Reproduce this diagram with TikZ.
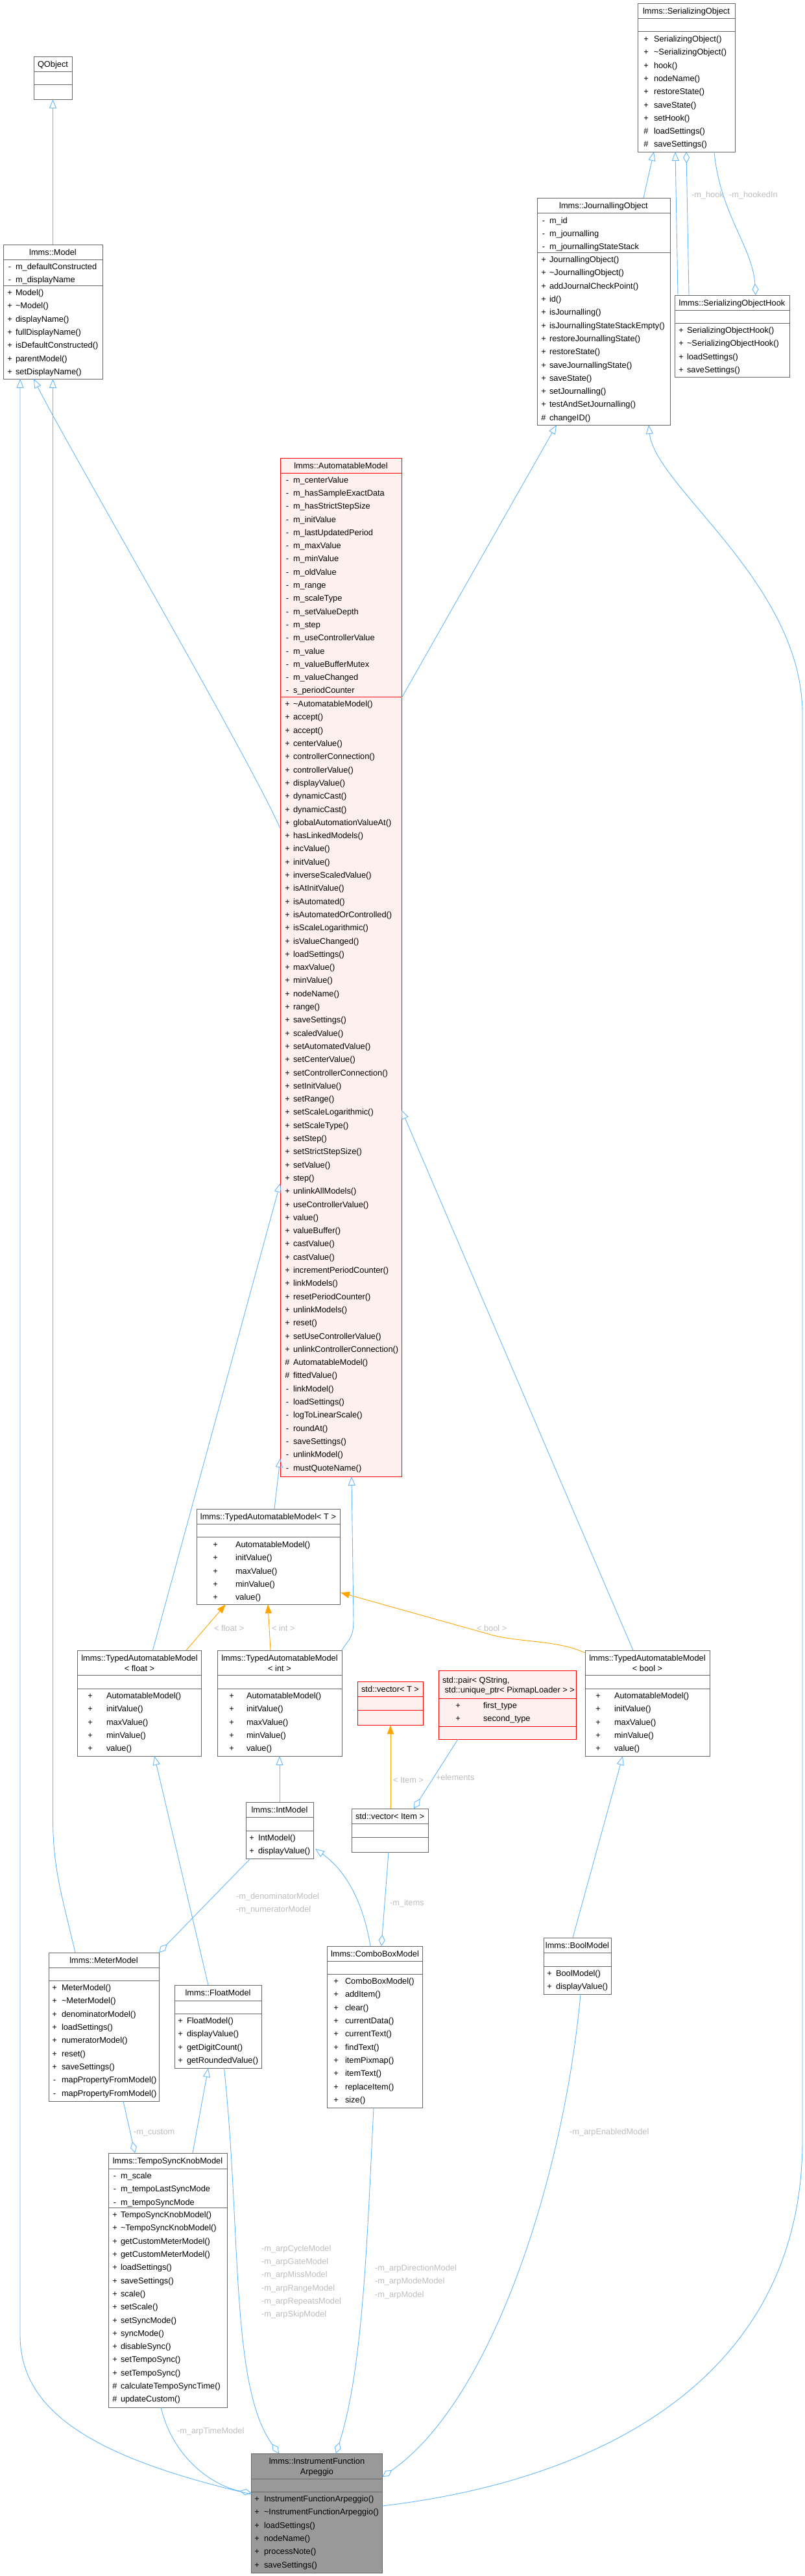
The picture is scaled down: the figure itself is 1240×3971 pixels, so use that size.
\documentclass[tikz,border=0pt]{standalone}
\usepackage{fontspec}
\setmainfont{Liberation Sans}
\usetikzlibrary{arrows.meta,calc}
\definecolor{eblue}{HTML}{63B8FF}
\definecolor{eorange}{HTML}{FFA500}
\definecolor{bgray}{HTML}{666666}
\definecolor{lblgray}{HTML}{BEBEBE}
\definecolor{pinkfill}{HTML}{FFF0F0}
\definecolor{argray}{HTML}{999999}
\newcommand\clsnode[6]{\node[#6, anchor=north west, minimum width=#4pt, minimum height=#5pt] (#1) at (#2,#3) {};}
\newcommand\sepline[4]{\draw[draw=#4, line width=0.9pt] (#1,#3) -- ({#1+#2},#3);}
\newcommand\memrows[4]{\foreach \mypre/\mytext [count=\myi from 0] in {#4}{\node[rowtxt, anchor=base] at (#1,{#3+20.3*\myi+4.6}) {\mypre};\node[rowtxt, anchor=base west] at (#2,{#3+20.3*\myi+4.6}) {\mytext};}}
\newcommand\ttl[3]{\node[rowtxt, anchor=base] at (#1,{#2+4.6}) {#3};}
\newcommand\elab[3]{\node[lab] at (#1,{#2+4.6}) {#3};}
\begin{document}
\begin{tikzpicture}[x=1pt,y=-1pt,font=\fontsize{12.8}{15}\selectfont,
  box/.style={draw=bgray, line width=0.9pt, fill=white, rectangle, inner sep=0pt, outer sep=0pt},
  redbox/.style={box, draw=red, fill=pinkfill},
  arbox/.style={box, fill=argray},
  rowtxt/.style={inner sep=0pt, outer sep=0pt},
  lab/.style={inner sep=0pt, outer sep=0pt, text=lblgray, anchor=base west},
  inh/.style={draw=eblue, line width=0.9pt, -{Triangle[open, length=14pt, width=11pt]}},
  tmpl/.style={draw=eorange, line width=0.9pt, -{Triangle[length=14pt, width=10pt]}},
  agg/.style={draw=eblue, line width=0.9pt, -{Diamond[open, length=18pt, width=10pt]}}]
\fill[white] (0,0) rectangle (1240,3971);
\useasboundingbox (0,0) rectangle (1240,3971);

% ---------- QObject
\clsnode{qobj}{52}{87}{59}{66}{box}
\sepline{52}{59}{110}{bgray}\sepline{52}{59}{130}{bgray}
\ttl{81.5}{98.5}{QObject}

% ---------- Model
\clsnode{model}{5}{377}{153}{207}{box}
\sepline{5}{153}{400}{bgray}\sepline{5}{153}{440}{bgray}
\ttl{81.5}{388.5}{lmms::Model}
\memrows{15}{24}{411}{-/m\_defaultConstructed,-/m\_displayName}
\memrows{15}{24}{451}{+/Model(),+/\textasciitilde Model(),+/displayName(),+/fullDisplayName(),+/isDefaultConstructed(),+/parentModel(),+/setDisplayName()}

% ---------- SerializingObject
\clsnode{so}{983}{5}{150}{229}{box}
\sepline{983}{150}{28}{bgray}\sepline{983}{150}{48}{bgray}
\ttl{1058}{16.5}{lmms::SerializingObject}
\memrows{996}{1008}{60}{+/SerializingObject(),+/\textasciitilde SerializingObject(),+/hook(),+/nodeName(),+/restoreState(),+/saveState(),+/setHook(),\#/loadSettings(),\#/saveSettings()}

% ---------- JournallingObject
\clsnode{jo}{828}{305}{205}{350}{box}
\sepline{828}{205}{328}{bgray}\sepline{828}{205}{389}{bgray}
\ttl{930.5}{316.5}{lmms::JournallingObject}
\memrows{838}{847}{339.5}{-/m\_id,-/m\_journalling,-/m\_journallingStateStack}
\memrows{838}{847}{400}{+/JournallingObject(),+/\textasciitilde JournallingObject(),+/addJournalCheckPoint(),+/id(),+/isJournalling(),+/isJournallingStateStackEmpty(),+/restoreJournallingState(),+/restoreState(),+/saveJournallingState(),+/saveState(),+/setJournalling(),+/testAndSetJournalling(),\#/changeID()}

% ---------- SerializingObjectHook
\clsnode{hook}{1040}{455}{177}{126}{box}
\sepline{1040}{177}{478}{bgray}\sepline{1040}{177}{498}{bgray}
\ttl{1128.5}{466.5}{lmms::SerializingObjectHook}
\memrows{1050}{1059}{509}{+/SerializingObjectHook(),+/\textasciitilde SerializingObjectHook(),+/loadSettings(),+/saveSettings()}

% ---------- AutomatableModel
\clsnode{am}{432}{706}{187}{1570}{redbox}
\sepline{432}{187}{729}{red}\sepline{432}{187}{1074}{red}
\ttl{525.5}{717.5}{lmms::AutomatableModel}
\memrows{443}{452}{739.5}{-/m\_centerValue,-/m\_hasSampleExactData,-/m\_hasStrictStepSize,-/m\_initValue,-/m\_lastUpdatedPeriod,-/m\_maxValue,-/m\_minValue,-/m\_oldValue,-/m\_range,-/m\_scaleType,-/m\_setValueDepth,-/m\_step,-/m\_useControllerValue,-/m\_value,-/m\_valueBufferMutex,-/m\_valueChanged,-/s\_periodCounter}
\memrows{443}{452}{1085}{+/\textasciitilde AutomatableModel(),+/accept(),+/accept(),+/centerValue(),+/controllerConnection(),+/controllerValue(),+/displayValue(),+/dynamicCast(),+/dynamicCast(),+/globalAutomationValueAt(),+/hasLinkedModels(),+/incValue(),+/initValue(),+/inverseScaledValue(),+/isAtInitValue(),+/isAutomated(),+/isAutomatedOrControlled(),+/isScaleLogarithmic(),+/isValueChanged(),+/loadSettings(),+/maxValue(),+/minValue(),+/nodeName(),+/range(),+/saveSettings(),+/scaledValue(),+/setAutomatedValue(),+/setCenterValue(),+/setControllerConnection(),+/setInitValue(),+/setRange(),+/setScaleLogarithmic(),+/setScaleType(),+/setStep(),+/setStrictStepSize(),+/setValue(),+/step(),+/unlinkAllModels(),+/useControllerValue(),+/value(),+/valueBuffer(),+/castValue(),+/castValue(),+/incrementPeriodCounter(),+/linkModels(),+/resetPeriodCounter(),+/unlinkModels(),+/reset(),+/setUseControllerValue(),+/unlinkControllerConnection(),\#/AutomatableModel(),\#/fittedValue(),-/linkModel(),-/loadSettings(),-/logToLinearScale(),-/roundAt(),-/saveSettings(),-/unlinkModel(),-/mustQuoteName()}

% ---------- TypedAutomatableModel<T>
\clsnode{tT}{303}{2326}{221}{147}{box}
\sepline{303}{221}{2349}{bgray}\sepline{303}{221}{2369}{bgray}
\ttl{413.5}{2337.5}{lmms::TypedAutomatableModel< T >}
\memrows{332}{363}{2381}{+/AutomatableModel(),+/initValue(),+/maxValue(),+/minValue(),+/value()}

% ---------- TypedAutomatableModel<float>
\clsnode{tf}{119.5}{2544}{191}{163}{box}
\sepline{119.5}{191}{2582}{bgray}\sepline{119.5}{191}{2603}{bgray}
\ttl{215}{2556}{lmms::TypedAutomatableModel}
\ttl{215}{2572}{< float >}
\memrows{139}{164}{2614}{+/AutomatableModel(),+/initValue(),+/maxValue(),+/minValue(),+/value()}

% ---------- TypedAutomatableModel<int>
\clsnode{ti}{335}{2544}{192}{163}{box}
\sepline{335}{192}{2582}{bgray}\sepline{335}{192}{2603}{bgray}
\ttl{431}{2556}{lmms::TypedAutomatableModel}
\ttl{431}{2572}{< int >}
\memrows{357}{380}{2614}{+/AutomatableModel(),+/initValue(),+/maxValue(),+/minValue(),+/value()}

% ---------- TypedAutomatableModel<bool>
\clsnode{tb}{902}{2544}{192}{163}{box}
\sepline{902}{192}{2582}{bgray}\sepline{902}{192}{2603}{bgray}
\ttl{998}{2556}{lmms::TypedAutomatableModel}
\ttl{998}{2572}{< bool >}
\memrows{922}{947}{2614}{+/AutomatableModel(),+/initValue(),+/maxValue(),+/minValue(),+/value()}

% ---------- std::vector<T>
\clsnode{vT}{551}{2592}{101}{67}{redbox}
\sepline{551}{101}{2615}{red}\sepline{551}{101}{2636}{red}
\ttl{601.5}{2603.5}{std::vector< T >}

% ---------- std::pair
\clsnode{pr}{676}{2575}{212}{106}{redbox}
\sepline{676}{212}{2618}{red}\sepline{676}{212}{2661}{red}
\node[rowtxt, anchor=base west] at (682,2594) {std::pair< QString,};
\node[rowtxt, anchor=base west] at (682,2609) {~std::unique\_ptr< PixmapLoader > >};
\memrows{706}{745}{2629}{+/first\_type,+/second\_type}

% ---------- std::vector<Item>
\clsnode{vI}{542}{2788}{118}{67}{box}
\sepline{542}{118}{2811}{bgray}\sepline{542}{118}{2832}{bgray}
\ttl{601}{2799.5}{std::vector< Item >}

% ---------- IntModel
\clsnode{im}{379}{2778}{104}{87}{box}
\sepline{379}{104}{2801}{bgray}\sepline{379}{104}{2822}{bgray}
\ttl{431}{2789.5}{lmms::IntModel}
\memrows{388}{398}{2833}{+/IntModel(),+/displayValue()}

% ---------- BoolModel
\clsnode{bm}{838}{2987}{104}{87}{box}
\sepline{838}{104}{3010}{bgray}\sepline{838}{104}{3031}{bgray}
\ttl{890}{2998.5}{lmms::BoolModel}
\memrows{847}{857}{3042}{+/BoolModel(),+/displayValue()}

% ---------- MeterModel
\clsnode{mm}{75}{3010}{170}{229}{box}
\sepline{75}{170}{3033}{bgray}\sepline{75}{170}{3053}{bgray}
\ttl{160}{3021.5}{lmms::MeterModel}
\memrows{84}{95}{3064}{+/MeterModel(),+/\textasciitilde MeterModel(),+/denominatorModel(),+/loadSettings(),+/numeratorModel(),+/reset(),+/saveSettings(),-/mapPropertyFromModel(),-/mapPropertyFromModel()}

% ---------- FloatModel
\clsnode{fm}{269}{3060}{134}{128}{box}
\sepline{269}{134}{3084}{bgray}\sepline{269}{134}{3104}{bgray}
\ttl{336}{3072}{lmms::FloatModel}
\memrows{278}{288}{3115}{+/FloatModel(),+/displayValue(),+/getDigitCount(),+/getRoundedValue()}

% ---------- ComboBoxModel
\clsnode{cb}{504.5}{3000}{147}{249}{box}
\sepline{504.5}{147}{3023}{bgray}\sepline{504.5}{147}{3043}{bgray}
\ttl{578}{3011.5}{lmms::ComboBoxModel}
\memrows{518}{532}{3054}{+/ComboBoxModel(),+/addItem(),+/clear(),+/currentData(),+/currentText(),+/findText(),+/itemPixmap(),+/itemText(),+/replaceItem(),+/size()}

% ---------- TempoSyncKnobModel
\clsnode{ts}{167}{3319}{183}{392}{box}
\sepline{167}{183}{3343}{bgray}\sepline{167}{183}{3403}{bgray}
\ttl{258.5}{3331}{lmms::TempoSyncKnobModel}
\memrows{177}{186}{3354}{-/m\_scale,-/m\_tempoLastSyncMode,-/m\_tempoSyncMode}
\memrows{177}{186}{3414}{+/TempoSyncKnobModel(),+/\textasciitilde TempoSyncKnobModel(),+/getCustomMeterModel(),+/getCustomMeterModel(),+/loadSettings(),+/saveSettings(),+/scale(),+/setScale(),+/setSyncMode(),+/syncMode(),+/disableSync(),+/setTempoSync(),+/setTempoSync(),\#/calculateTempoSyncTime(),\#/updateCustom()}

% ---------- InstrumentFunctionArpeggio
\clsnode{ar}{387.5}{3782}{202}{184}{arbox}
\sepline{387.5}{202}{3821}{bgray}\sepline{387.5}{202}{3841}{bgray}
\ttl{488.5}{3794}{lmms::InstrumentFunction}
\ttl{488.5}{3810}{Arpeggio}
\memrows{396}{407}{3852}{+/InstrumentFunctionArpeggio(),+/\textasciitilde InstrumentFunctionArpeggio(),+/loadSettings(),+/nodeName(),+/processNote(),+/saveSettings()}

% ================= connectors
\draw[inh] (model.north) -- (qobj.south);
\draw[inh] ($(jo.north west)+(164,0)$) -- ($(so.south west)+(25,0)$);
\draw[inh] ($(hook.north west)+(5,0)$) -- ($(so.south west)+(58,0)$);
\draw[agg] ($(hook.north west)+(22,0)$) -- ($(so.south west)+(75,0)$);
\elab{1066}{300}{-m\_hook}
\draw[agg] ($(so.south west)+(118,0)$) .. controls ($(so.south west)+(127,96)$) and ($(hook.north west)+(120,-75)$) .. ($(hook.north west)+(125,0)$);
\elab{1124}{300}{-m\_hookedIn}

\draw[inh] ($(am.north west)+(0,571)$) .. controls ($(am.north west)+(-52,454)$) and ($(model.south west)+(95,97)$) .. ($(model.south west)+(47,0)$);
\draw[inh] ($(am.north east)+(0,370)$) -- ($(jo.south west)+(30,0)$);
\draw[inh] ($(tf.north west)+(116,0)$) -- ($(am.north west)+(0,1118)$);
\draw[inh] ($(tT.north west)+(120,0)$) -- ($(am.south west)+(0,-28)$);
\draw[inh] (ti.north east) .. controls ($(ti.north east)+(12,-20)$) and ($(am.south west)+(113,250)$) .. ($(am.south west)+(113,220)$) -- ($(am.south west)+(110,0)$);
\draw[inh] ($(tb.north west)+(74,0)$) -- ($(am.north east)+(0,1005)$);

\draw[tmpl] ($(tf.north west)+(167.5,0)$) -- ($(tT.south west)+(45,0)$);
\elab{330}{2510}{< float >}
\draw[tmpl] ($(ti.north west)+(82,0)$) -- ($(tT.south west)+(110,0)$);
\elab{419}{2510}{< int >}
\draw[tmpl] ($(tb.north west)+(0,4)$) .. controls (860,2528) and (800,2532) .. (757,2520) -- ($(tT.north east)+(1,129)$);
\elab{735}{2510}{< bool >}

\draw[inh] ($(fm.north west)+(52,0)$) -- ($(tf.south west)+(118.5,0)$);
\draw[inh] (im.north) -- (ti.south);
\draw[inh] ($(cb.north west)+(66.5,0)$) .. controls ($(cb.north west)+(56,-65)$) and ($(im.north east)+(52,107)$) .. ($(im.north east)+(3,72)$);
\draw[agg] ($(im.south west)+(7,0)$) -- (mm.north east);
\elab{364}{2923}{-m\_denominatorModel}
\elab{364}{2943}{-m\_numeratorModel}
\draw[agg] ($(vI.south west)+(57,0)$) -- ($(cb.north west)+(83.5,0)$);
\elab{601}{2933}{-m\_items}
\draw[tmpl] ($(vI.north west)+(60,0)$) -- ($(vT.south west)+(51,0)$);
\elab{606}{2744}{< Item >}
\draw[agg] ($(pr.south west)+(30,0)$) -- ($(vI.north west)+(96,0)$);
\elab{672}{2740}{+elements}
\draw[inh] ($(bm.north west)+(45,0)$) -- ($(tb.south west)+(58,0)$);

\draw[inh] ($(mm.north west)+(41,0)$) .. controls ($(mm.north west)+(20,-90)$) and ($(model.south)+(0,2297)$) .. ($(model.south)+(0,2217)$) -- (model.south);
\draw[agg] ($(mm.south west)+(115,0)$) -- ($(ts.north west)+(41,0)$);
\elab{206}{3286}{-m\_custom}
\draw[inh] ($(ts.north west)+(130,0)$) -- ($(fm.south west)+(52,0)$);

\draw[agg] ($(fm.south west)+(76.5,0)$) .. controls (372,3440) and (355,3680) .. ($(ar.north west)+(42.5,0)$);
\elab{403}{3466}{-m\_arpCycleModel}
\elab{403}{3486}{-m\_arpGateModel}
\elab{403}{3506}{-m\_arpMissModel}
\elab{403}{3527}{-m\_arpRangeModel}
\elab{403}{3547}{-m\_arpRepeatsModel}
\elab{403}{3567}{-m\_arpSkipModel}
\draw[agg] ($(cb.south west)+(71.5,0)$) .. controls (566,3450) and (560,3650) .. ($(ar.north west)+(130.5,0)$);
\elab{578}{3496}{-m\_arpDirectionModel}
\elab{578}{3516}{-m\_arpModeModel}
\elab{578}{3537}{-m\_arpModel}
\draw[agg] ($(bm.south west)+(57,0)$) .. controls (870,3350) and (760,3700) .. ($(ar.north east)+(0,36)$);
\elab{878}{3286}{-m\_arpEnabledModel}
\draw[agg] ($(ts.south west)+(81,0)$) .. controls (270,3800) and (340,3835) .. ($(ar.north west)+(0,61)$);
\elab{273}{3747}{-m\_arpTimeModel}
\draw[inh] ($(ar.north west)+(0,63)$) .. controls (150,3790) and (31,3720) .. (31,3600) -- ($(model.south west)+(26,0)$);
\draw[inh] ($(ar.north east)+(0,81)$) .. controls (950,3820) and (1237,3650) .. (1237,3300) -- (1237,1100) .. controls (1237,900) and (1010,750) .. ($(jo.south west)+(172,0)$);
\end{tikzpicture}
\end{document}
